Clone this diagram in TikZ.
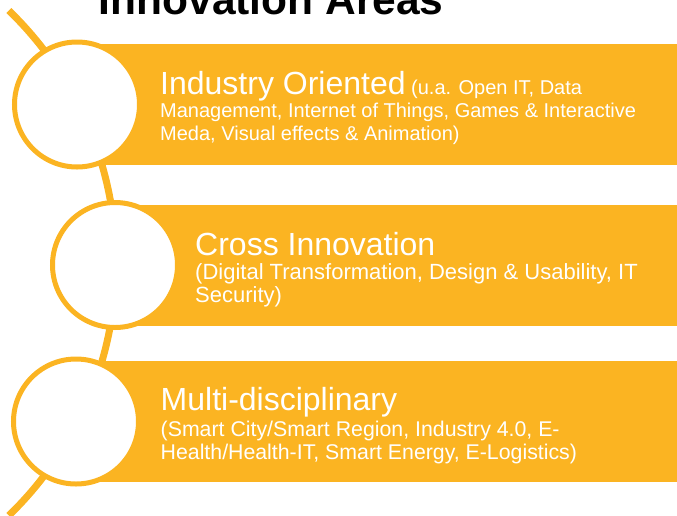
\documentclass[tikz,border=0pt]{standalone}
\usepackage{fontspec}
\setmainfont{Liberation Sans}
\usetikzlibrary{positioning}
\definecolor{amber}{RGB}{251,180,34}
\tikzstyle{band} = [rectangle, fill=amber, inner sep=0pt, minimum height=121pt, anchor=west]
\tikzstyle{ring} = [circle, draw=amber, line width=5pt, fill=white, inner sep=0pt, minimum size=125pt]
\tikzstyle{caption} = [anchor=base west, inner sep=0pt, align=left, text=white]
\tikzstyle{spine} = [draw=amber, line width=7pt]
\newcommand{\headline}[1]{{\fontsize{32}{32}\selectfont #1}}

\begin{document}
\begin{tikzpicture}[x=1pt, y=-1pt]
    \useasboundingbox (0,0) rectangle (677,515);
    % curved line behind the circles
    \draw [spine] (-235,263) ++(-46:351) arc [start angle=-46, end angle=46, radius=351];
    \node [anchor=base west, inner sep=0pt, font=\bfseries\fontsize{42.5}{42.5}\selectfont] at (98.5,14) (title) {Innovation Areas};
    \node [band, minimum width=600pt] at (77,104.5) (band1) {};
    \node [band, minimum width=562pt] at (115,265) (band2) {};
    \node [band, minimum width=601pt] at (76,421.5) (band3) {};
    \node [ring] at (band1.west) (ring1) {};
    \node [ring] at (band2.west) (ring2) {};
    \node [ring] at (band3.west) (ring3) {};
    % base anchor sits on the last line
    \node [caption, font=\fontsize{20}{23}\selectfont] at (160,140) (text1)
        {\headline{Industry Oriented} (u.a. Open IT, Data\\Management, Internet of Things, Games \& Interactive\\Meda, Visual effects \& Animation)};
    \node [caption, font=\fontsize{22}{23}\selectfont] at (195,302) (text2)
        {\headline{Cross Innovation}\\[1pt](Digital Transformation, Design \& Usability, IT\\Security)};
    \node [caption, font=\fontsize{21.3}{22.6}\selectfont] at (160.5,459.5) (text3)
        {\headline{Multi-disciplinary}\\[3.5pt](Smart City/Smart Region, Industry 4.0, E-\\Health/Health-IT, Smart Energy, E-Logistics)};
\end{tikzpicture}
\end{document}
